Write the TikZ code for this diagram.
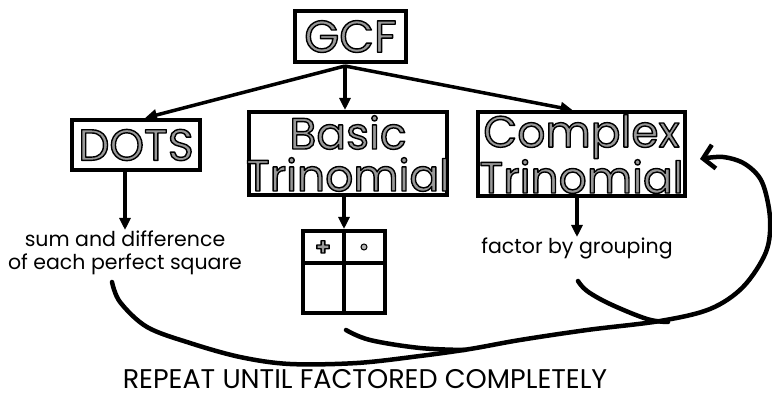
\documentclass[tikz,border=0pt]{standalone}
\usepackage{fontspec}
\setmainfont{Poppins}
\usetikzlibrary{arrows.meta}
\newcommand\outl[1]{{\special{pdf:literal direct q 2 Tr 1.4 w 1 j 0 G 0.6 g}#1\special{pdf:literal direct 0 Tr Q}}}
\begin{document}
\begin{tikzpicture}[x=1pt,y=-1pt,
  box/.style={draw=black,line width=4pt,inner sep=0pt,fill=white},
  big/.style={font=\fontsize{44}{42}\selectfont,align=center},
  hand/.style={font=\fontsize{20.5}{23}\selectfont,align=center,inner sep=1pt},
  arr/.style={line width=3.5pt,-{Triangle[length=12pt,width=11pt]}},
  stroke/.style={line width=4.5pt,line cap=round,line join=round},
]
\useasboundingbox (0,0) rectangle (772,398);

% boxes
\node[box,minimum width=111pt,minimum height=51pt] (gcf) at (350.5,36.5) {};
\node[big,font=\fontsize{45}{45}\selectfont] (gcft) at (gcf) {\outl{GCF}};
\node[box,minimum width=128pt,minimum height=50pt] (dots) at (136,145) {};
\node[big] (dotst) at (dots) {\outl{DOTS}};
\node[box,minimum width=198pt,minimum height=83pt] (basic) at (348,153.5) {};
\node[big] (basict) at (basic) {\outl{Basic}\\\outl{Trinomial}};
\node[box,minimum width=207pt,minimum height=84pt] (complex) at (581.5,154) {};
\node[big] (complext) at (complex) {\outl{Complex}\\\outl{Trinomial}};

% texts
\node[hand,anchor=north] (sum) at (125,230) {sum and difference\\of each perfect square};
\node[hand,anchor=north] (fbg) at (577,237) {factor by grouping};
\node[font=\fontsize{27}{27}\selectfont,inner sep=0pt] (repeat) at (365,379) {REPEAT UNTIL FACTORED COMPLETELY};

% grid
\node[draw,line width=4pt,minimum width=82pt,minimum height=82pt,inner sep=0pt] (grid) at (344,272) {};
\draw[line width=4pt] (grid.north) -- (grid.south);
\draw[line width=4pt] ([yshift=-34pt]grid.north west) -- ([yshift=-34pt]grid.north east);
\node[font=\fontsize{24}{24}\bfseries] (plus) at (323,248) {\outl{+}};
\node[circle,draw=black,fill=gray!60,line width=1pt,inner sep=0pt,minimum size=6pt] (dot) at (364,247) {};

% arrows
\coordinate (hub) at (345,66);
\draw[arr] (hub) -- ([xshift=9pt]dots.north);
\draw[arr] (hub) -- (hub |- basic.north);
\draw[arr] (hub) -- ([xshift=-9pt]complex.north);
\draw[arr] (dots.south -| sum.north) -- (sum.north);
\draw[arr] (basic.south -| grid.north) -- (grid.north);
\draw[arr] (complex.south -| fbg.north) -- (fbg.north);

% loop strokes
\coordinate (s1) at (112,282);
\coordinate (s2) at (346,330);
\coordinate (s3) at (578,281);
\coordinate (tip) at (700,159);
\draw[stroke,-{Straight Barb[length=11pt,width=24pt]}] plot[smooth,tension=0.55] coordinates {
 (s1) (120,302) (147,327) (190,343) (240,357) (290,364) (357,363) (420,356) (470,349)
 (520,340) (587,330) (660,321) (710,309) (743,287) (766,252) (770,218) (762,182) (745,164) (723,157) (tip)};
\draw[stroke] plot[smooth,tension=0.6] coordinates {(s2) (370,340) (420,348) (465,350)};
\draw[stroke] plot[smooth,tension=0.6] coordinates {(s3) (587,291) (610,304) (647,319) (668,322)};
\end{tikzpicture}
\end{document}
